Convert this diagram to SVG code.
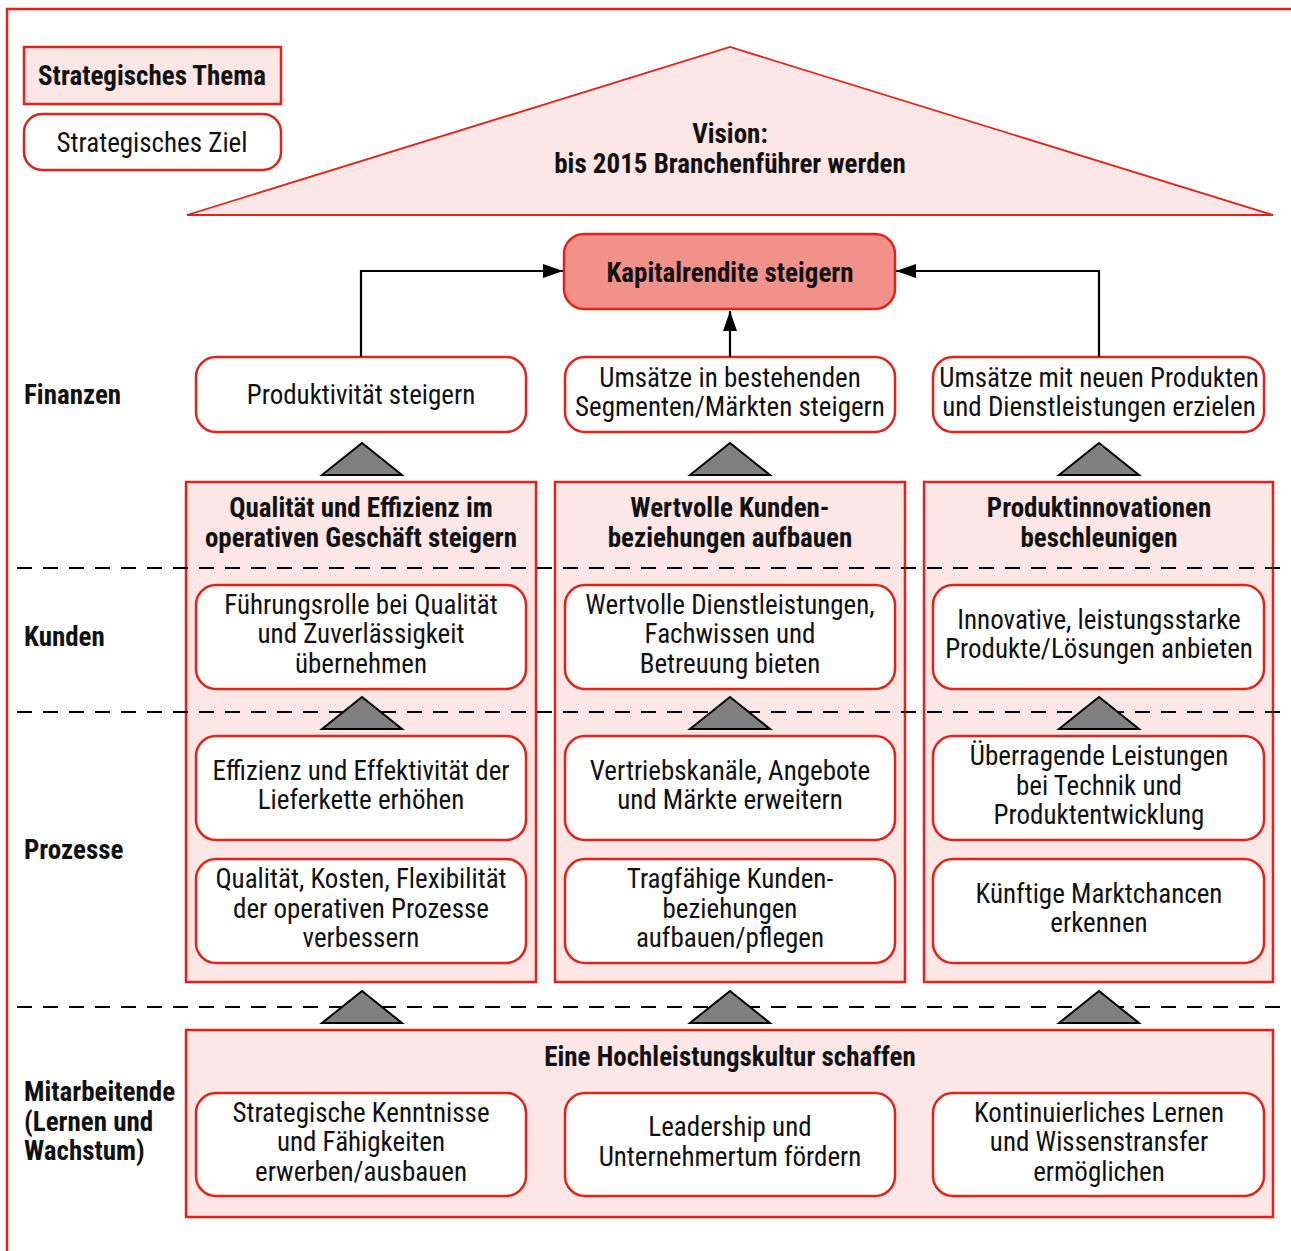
<svg xmlns="http://www.w3.org/2000/svg" width="1291" height="1251" viewBox="0 0 1291 1251">
<style>
text{font-family:"Liberation Sans Narrow","Roboto Condensed","DejaVu Sans Condensed","Liberation Sans",sans-serif;font-stretch:condensed;fill:#111;}
.t{font-size:27px;text-anchor:middle;}
.b{font-size:27px;font-weight:bold;text-anchor:middle;}
.l{font-size:27px;font-weight:bold;text-anchor:start;}
.goal{fill:#fff;stroke:#e2231a;stroke-width:2.5;}
.theme{fill:#fce6e6;stroke:#e2231a;stroke-width:2.5;}
.tri{fill:#808080;stroke:#000;stroke-width:2;stroke-linejoin:miter;}
.dash{stroke:#000;stroke-width:2;stroke-dasharray:15 11;fill:none;}
.conn{stroke:#000;stroke-width:2.2;fill:none;}
</style>
<defs>
<marker id="ah" viewBox="0 0 20 14" refX="20" refY="7" markerWidth="20" markerHeight="14" markerUnits="userSpaceOnUse" orient="auto">
<path d="M0,0 L20,7 L0,14 Z" fill="#000"/>
</marker>
</defs>
<rect width="1291" height="1251" fill="#fff"/>
<!-- frame -->
<path d="M7,1260 V9 H1300" fill="none" stroke="#e2231a" stroke-width="2.5"/>

<!-- legend -->
<g id="legend-thema">
<rect x="24" y="47" width="257" height="57" class="theme"/>
<text class="b" x="152" y="85">Strategisches Thema</text>
</g>
<g id="legend-ziel">
<rect x="24" y="114" width="257" height="56" rx="18" class="goal"/>
<text class="t" x="152" y="152">Strategisches Ziel</text>
</g>

<!-- vision -->
<g id="vision">
<polygon points="187,215 730,47 1273,215" fill="#fce6e6" stroke="#e2231a" stroke-width="1.8"/>
<text class="b" x="730" y="143">Vision:</text>
<text class="b" x="730" y="173">bis 2015 Branchenführer werden</text>
</g>

<!-- dashed separators -->
<g id="separators">
<line x1="17" y1="568" x2="1291" y2="568" class="dash"/>
<line x1="17" y1="712" x2="1291" y2="712" class="dash"/>
<line x1="17" y1="1007" x2="1291" y2="1007" class="dash"/>
</g>

<!-- row labels -->
<g id="row-labels">
<text class="l" x="24" y="404">Finanzen</text>
<text class="l" x="24" y="646">Kunden</text>
<text class="l" x="24" y="859">Prozesse</text>
<text class="l" x="24" y="1101">Mitarbeitende</text>
<text class="l" x="24" y="1131">(Lernen und</text>
<text class="l" x="24" y="1160">Wachstum)</text>
</g>

<!-- themes -->
<g id="theme-qualitaet">
<rect x="186" y="482" width="350" height="500" class="theme"/>
<text class="b" x="361" y="517">Qualität und Effizienz im</text>
<text class="b" x="361" y="547">operativen Geschäft steigern</text>
</g>
<g id="theme-kunden">
<rect x="555" y="482" width="350" height="500" class="theme"/>
<text class="b" x="730" y="517">Wertvolle Kunden-</text>
<text class="b" x="730" y="547">beziehungen aufbauen</text>
</g>
<g id="theme-innovation">
<rect x="924" y="482" width="349" height="500" class="theme"/>
<text class="b" x="1099" y="517">Produktinnovationen</text>
<text class="b" x="1099" y="547">beschleunigen</text>
</g>
<g id="theme-kultur">
<rect x="186" y="1030" width="1087" height="187" class="theme"/>
<text class="b" x="730" y="1066">Eine Hochleistungskultur schaffen</text>
</g>

<!-- dashed line overlays on themes (lines are drawn over the theme boxes) -->
<g id="separators-over">
<line x1="17" y1="568" x2="1291" y2="568" class="dash"/>
<line x1="17" y1="712" x2="1291" y2="712" class="dash"/>
</g>

<!-- top goal -->
<g id="kapitalrendite">
<rect x="564" y="234" width="331" height="75" rx="20" fill="#f2918a" stroke="#e2231a" stroke-width="2.5"/>
<text class="b" x="730" y="282">Kapitalrendite steigern</text>
</g>

<!-- finance goals -->
<g id="produktivitaet">
<rect x="196" y="357" width="330" height="75" rx="20" class="goal"/>
<text class="t" x="361" y="404">Produktivität steigern</text>
</g>
<g id="umsaetze-bestehend">
<rect x="565" y="357" width="330" height="75" rx="20" class="goal"/>
<text class="t" x="730" y="387">Umsätze in bestehenden</text>
<text class="t" x="730" y="416">Segmenten/Märkten steigern</text>
</g>
<g id="umsaetze-neu">
<rect x="933" y="357" width="331" height="75" rx="20" class="goal"/>
<text class="t" x="1099" y="387">Umsätze mit neuen Produkten</text>
<text class="t" x="1099" y="416">und Dienstleistungen erzielen</text>
</g>

<!-- customer goals -->
<g id="fuehrungsrolle">
<rect x="196" y="585" width="330" height="104" rx="20" class="goal"/>
<text class="t" x="361" y="614">Führungsrolle bei Qualität</text>
<text class="t" x="361" y="643">und Zuverlässigkeit</text>
<text class="t" x="361" y="673">übernehmen</text>
</g>
<g id="dienstleistungen">
<rect x="565" y="585" width="330" height="104" rx="20" class="goal"/>
<text class="t" x="730" y="614">Wertvolle Dienstleistungen,</text>
<text class="t" x="730" y="643">Fachwissen und</text>
<text class="t" x="730" y="673">Betreuung bieten</text>
</g>
<g id="innovative-produkte">
<rect x="933" y="585" width="331" height="104" rx="20" class="goal"/>
<text class="t" x="1099" y="629">Innovative, leistungsstarke</text>
<text class="t" x="1099" y="658">Produkte/Lösungen anbieten</text>
</g>

<!-- process goals -->
<g id="lieferkette">
<rect x="196" y="736" width="330" height="104" rx="20" class="goal"/>
<text class="t" x="361" y="780">Effizienz und Effektivität der</text>
<text class="t" x="361" y="809">Lieferkette erhöhen</text>
</g>
<g id="vertriebskanaele">
<rect x="565" y="736" width="330" height="104" rx="20" class="goal"/>
<text class="t" x="730" y="780">Vertriebskanäle, Angebote</text>
<text class="t" x="730" y="809">und Märkte erweitern</text>
</g>
<g id="technik">
<rect x="933" y="736" width="331" height="104" rx="20" class="goal"/>
<text class="t" x="1099" y="765">Überragende Leistungen</text>
<text class="t" x="1099" y="795">bei Technik und</text>
<text class="t" x="1099" y="824">Produktentwicklung</text>
</g>
<g id="operative-prozesse">
<rect x="196" y="859" width="330" height="104" rx="20" class="goal"/>
<text class="t" x="361" y="888">Qualität, Kosten, Flexibilität</text>
<text class="t" x="361" y="918">der operativen Prozesse</text>
<text class="t" x="361" y="947">verbessern</text>
</g>
<g id="kundenbeziehungen">
<rect x="565" y="859" width="330" height="104" rx="20" class="goal"/>
<text class="t" x="730" y="888">Tragfähige Kunden-</text>
<text class="t" x="730" y="918">beziehungen</text>
<text class="t" x="730" y="947">aufbauen/pflegen</text>
</g>
<g id="marktchancen">
<rect x="933" y="859" width="331" height="104" rx="20" class="goal"/>
<text class="t" x="1099" y="903">Künftige Marktchancen</text>
<text class="t" x="1099" y="932">erkennen</text>
</g>

<!-- learning goals -->
<g id="kenntnisse">
<rect x="196" y="1093" width="330" height="103" rx="20" class="goal"/>
<text class="t" x="361" y="1122">Strategische Kenntnisse</text>
<text class="t" x="361" y="1151">und Fähigkeiten</text>
<text class="t" x="361" y="1181">erwerben/ausbauen</text>
</g>
<g id="leadership">
<rect x="565" y="1093" width="330" height="103" rx="20" class="goal"/>
<text class="t" x="730" y="1136">Leadership und</text>
<text class="t" x="730" y="1166">Unternehmertum fördern</text>
</g>
<g id="wissenstransfer">
<rect x="933" y="1093" width="331" height="103" rx="20" class="goal"/>
<text class="t" x="1099" y="1122">Kontinuierliches Lernen</text>
<text class="t" x="1099" y="1151">und Wissenstransfer</text>
<text class="t" x="1099" y="1181">ermöglichen</text>
</g>

<!-- connectors -->
<g id="connectors">
<path d="M361,357 V271 H563" class="conn" marker-end="url(#ah)"/>
<path d="M730,357 V311" class="conn" marker-end="url(#ah)"/>
<path d="M1099,357 V271 H896" class="conn" marker-end="url(#ah)"/>
<g id="support-triangles">
<polygon points="322,475 362,443 402,475" class="tri"/>
<polygon points="690,475 730,443 770,475" class="tri"/>
<polygon points="1059,475 1099,443 1139,475" class="tri"/>
<polygon points="322,729 362,697 402,729" class="tri"/>
<polygon points="690,729 730,697 770,729" class="tri"/>
<polygon points="1059,729 1099,697 1139,729" class="tri"/>
<polygon points="322,1023 362,991 402,1023" class="tri"/>
<polygon points="690,1023 730,991 770,1023" class="tri"/>
<polygon points="1059,1023 1099,991 1139,1023" class="tri"/>
</g>
</g>
</svg>
